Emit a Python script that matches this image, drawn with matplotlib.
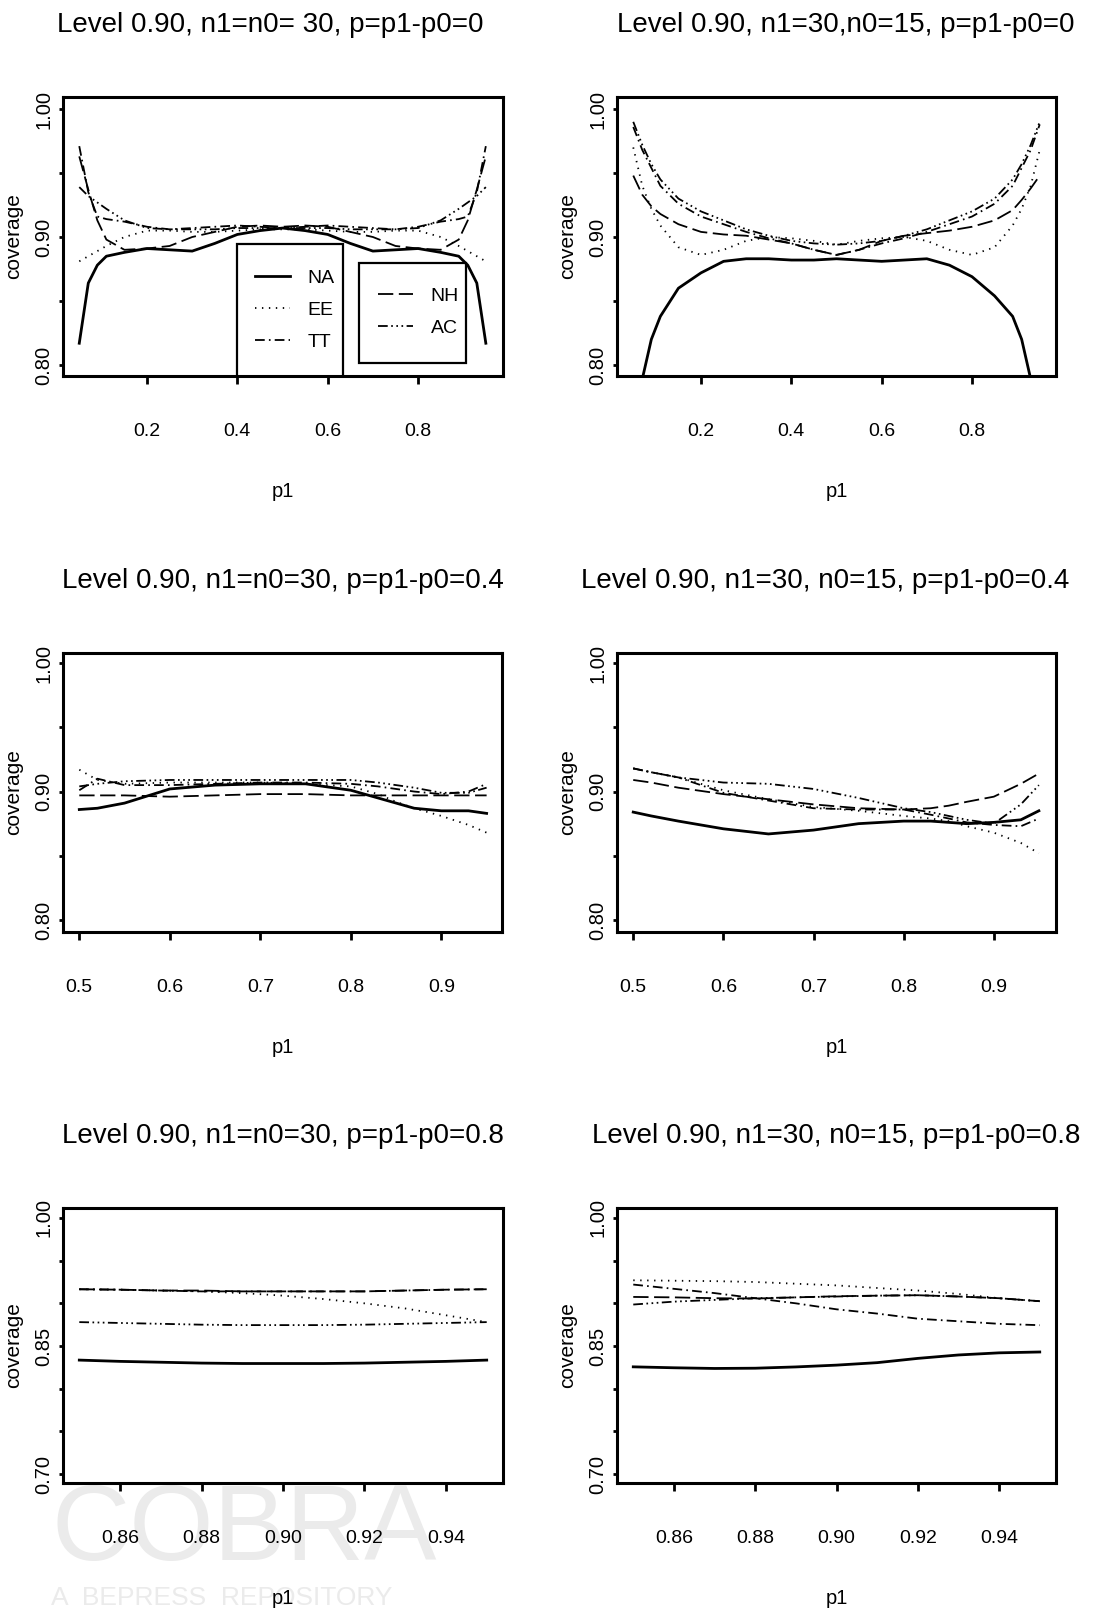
import matplotlib
matplotlib.use('Agg')
import matplotlib.pyplot as plt
from matplotlib.patches import Rectangle
from matplotlib.ticker import FixedLocator, FixedFormatter

plt.rcParams['font.family'] = ['Liberation Sans', 'DejaVu Sans']
plt.rcParams['lines.scale_dashes'] = False

# ---- data ----
# top row: p = p1 - p0 = 0
p1_top = [0.05, 0.07, 0.09, 0.11, 0.15, 0.20, 0.25, 0.30, 0.35, 0.40, 0.45, 0.50,
          0.55, 0.60, 0.65, 0.70, 0.75, 0.80, 0.85, 0.89, 0.91, 0.93, 0.95]
na_a = [0.817, 0.864, 0.878, 0.885, 0.888, 0.891, 0.890, 0.889, 0.895, 0.902, 0.905, 0.907,
        0.905, 0.902, 0.895, 0.889, 0.890, 0.891, 0.888, 0.885, 0.878, 0.864, 0.817]
ee_a = [0.881, 0.885, 0.889, 0.893, 0.900, 0.905, 0.905, 0.904, 0.904, 0.905, 0.906, 0.906,
        0.906, 0.905, 0.904, 0.904, 0.905, 0.905, 0.900, 0.893, 0.889, 0.885, 0.881]
tt_a = [0.971, 0.935, 0.916, 0.914, 0.912, 0.908, 0.906, 0.907, 0.908, 0.909, 0.908, 0.907,
        0.908, 0.909, 0.908, 0.907, 0.906, 0.908, 0.912, 0.914, 0.916, 0.935, 0.971]
nh_a = [0.963, 0.937, 0.913, 0.898, 0.890, 0.891, 0.893, 0.900, 0.904, 0.908, 0.909, 0.908,
        0.909, 0.908, 0.904, 0.900, 0.893, 0.891, 0.890, 0.898, 0.913, 0.937, 0.963]
ac_a = [0.939, 0.932, 0.927, 0.922, 0.913, 0.907, 0.906, 0.906, 0.906, 0.907, 0.907, 0.907,
        0.907, 0.907, 0.906, 0.906, 0.906, 0.907, 0.913, 0.922, 0.927, 0.932, 0.939]

na_b = [0.740, 0.789, 0.820, 0.838, 0.860, 0.872, 0.881, 0.883, 0.883, 0.882, 0.882, 0.883,
        0.882, 0.881, 0.882, 0.883, 0.878, 0.869, 0.854, 0.838, 0.820, 0.789, 0.740]
ee_b = [0.970, 0.940, 0.922, 0.909, 0.892, 0.886, 0.890, 0.897, 0.900, 0.899, 0.897, 0.894,
        0.897, 0.899, 0.900, 0.897, 0.890, 0.886, 0.892, 0.909, 0.922, 0.940, 0.968]
tt_b = [0.986, 0.968, 0.954, 0.940, 0.926, 0.916, 0.910, 0.904, 0.899, 0.895, 0.890, 0.886,
        0.890, 0.895, 0.899, 0.904, 0.910, 0.916, 0.926, 0.940, 0.954, 0.968, 0.988]
nh_b = [0.948, 0.933, 0.924, 0.918, 0.910, 0.904, 0.902, 0.901, 0.898, 0.895, 0.890, 0.886,
        0.890, 0.897, 0.901, 0.903, 0.905, 0.908, 0.913, 0.921, 0.929, 0.938, 0.948]
ac_b = [0.990, 0.972, 0.957, 0.945, 0.930, 0.920, 0.913, 0.906, 0.901, 0.897, 0.895, 0.894,
        0.895, 0.897, 0.901, 0.906, 0.913, 0.920, 0.930, 0.945, 0.957, 0.972, 0.990]

# middle row: p = 0.4
p1_mid = [0.50, 0.52, 0.55, 0.60, 0.65, 0.70, 0.75, 0.80, 0.83, 0.85, 0.87, 0.90, 0.93, 0.95]
na_c = [0.886, 0.887, 0.891, 0.902, 0.905, 0.906, 0.906, 0.901, 0.895, 0.891, 0.887, 0.885, 0.885, 0.883]
ee_c = [0.917, 0.909, 0.906, 0.907, 0.907, 0.907, 0.906, 0.904, 0.898, 0.892, 0.887, 0.881, 0.874, 0.868]
tt_c = [0.901, 0.910, 0.905, 0.905, 0.906, 0.907, 0.907, 0.906, 0.904, 0.902, 0.900, 0.898, 0.900, 0.906]
nh_c = [0.897, 0.897, 0.897, 0.896, 0.897, 0.898, 0.898, 0.897, 0.897, 0.897, 0.897, 0.897, 0.897, 0.897]
ac_c = [0.904, 0.906, 0.908, 0.909, 0.909, 0.909, 0.909, 0.909, 0.907, 0.905, 0.903, 0.899, 0.899, 0.903]

na_d = [0.884, 0.881, 0.877, 0.871, 0.867, 0.870, 0.875, 0.877, 0.877, 0.876, 0.875, 0.876, 0.878, 0.885]
ee_d = [0.918, 0.915, 0.911, 0.901, 0.894, 0.888, 0.885, 0.881, 0.879, 0.877, 0.873, 0.868, 0.860, 0.852]
tt_d = [0.918, 0.915, 0.911, 0.899, 0.893, 0.887, 0.886, 0.886, 0.882, 0.879, 0.876, 0.874, 0.873, 0.879]
nh_d = [0.909, 0.907, 0.903, 0.898, 0.894, 0.890, 0.887, 0.886, 0.887, 0.889, 0.892, 0.896, 0.906, 0.914]
ac_d = [0.918, 0.915, 0.911, 0.907, 0.906, 0.902, 0.895, 0.887, 0.884, 0.881, 0.878, 0.875, 0.890, 0.905]

# bottom row: p = 0.8
p1_bot = [0.85, 0.86, 0.87, 0.88, 0.89, 0.90, 0.91, 0.92, 0.93, 0.94, 0.95]
na_e = [0.8335, 0.832, 0.831, 0.830, 0.8295, 0.8295, 0.8295, 0.830, 0.831, 0.832, 0.8335]
ee_e = [0.9165, 0.916, 0.915, 0.914, 0.912, 0.909, 0.905, 0.900, 0.894, 0.886, 0.878]
tt_e = [0.9165, 0.916, 0.915, 0.914, 0.914, 0.914, 0.914, 0.914, 0.915, 0.916, 0.9165]
nh_e = [0.9165, 0.916, 0.915, 0.915, 0.914, 0.914, 0.914, 0.914, 0.915, 0.916, 0.9165]
ac_e = [0.878, 0.877, 0.876, 0.875, 0.8745, 0.8745, 0.8745, 0.875, 0.876, 0.877, 0.878]

na_f = [0.8256, 0.8245, 0.8237, 0.8240, 0.8255, 0.8276, 0.8305, 0.8355, 0.8395, 0.8420, 0.8430]
ee_f = [0.927, 0.9265, 0.926, 0.925, 0.923, 0.921, 0.918, 0.915, 0.911, 0.906, 0.9025]
tt_f = [0.922, 0.917, 0.912, 0.906, 0.900, 0.893, 0.888, 0.882, 0.879, 0.876, 0.8744]
nh_f = [0.9075, 0.907, 0.906, 0.9056, 0.907, 0.9083, 0.909, 0.9095, 0.908, 0.906, 0.9025]
ac_f = [0.8986, 0.902, 0.904, 0.906, 0.907, 0.908, 0.909, 0.9095, 0.908, 0.906, 0.9025]

titles = ['Level 0.90, n1=n0= 30, p=p1-p0=0',
          'Level 0.90, n1=30,n0=15, p=p1-p0=0',
          'Level 0.90, n1=n0=30, p=p1-p0=0.4',
          'Level 0.90, n1=30, n0=15, p=p1-p0=0.4',
          'Level 0.90, n1=n0=30, p=p1-p0=0.8',
          'Level 0.90, n1=30, n0=15, p=p1-p0=0.8']
method_names = ['NA', 'EE', 'TT', 'NH', 'AC']

# ---- styling ----
styles = {
    'NA': dict(linestyle='-', linewidth=2.0),
    'EE': dict(linestyle=(0, (1.0, 4.0)), linewidth=1.3),
    'TT': dict(linestyle=(0, (7, 3, 1.2, 3)), linewidth=1.3),
    'NH': dict(linestyle=(0, (11, 4)), linewidth=1.3),
    'AC': dict(linestyle=(0, (7, 2.5, 1.2, 2.5, 1.2, 2.5, 1.2, 2.5)), linewidth=1.3),
}

W, H = 1093, 1610
fig = plt.figure(figsize=(W / 100, H / 100), dpi=100)


def box(l, t, r, b):
    return [l / W, 1 - b / H, (r - l) / W, (b - t) / H]


panels = [
    (box(63, 97, 503, 376), p1_top, [na_a, ee_a, tt_a, nh_a, ac_a], (0.014, 0.988), (0.7914, 1.0094),
     [0.2, 0.4, 0.6, 0.8], ['0.2', '0.4', '0.6', '0.8'], 'top', 0.47),
    (box(617, 97, 1056, 376), p1_top, [na_b, ee_b, tt_b, nh_b, ac_b], (0.014, 0.986), (0.7914, 1.0094),
     [0.2, 0.4, 0.6, 0.8], ['0.2', '0.4', '0.6', '0.8'], 'top', 0.52),
    (box(63, 653, 502, 932), p1_mid, [na_c, ee_c, tt_c, nh_c, ac_c], (0.482, 0.967), (0.7907, 1.0078),
     [0.5, 0.6, 0.7, 0.8, 0.9], ['0.5', '0.6', '0.7', '0.8', '0.9'], 'top', 0.50),
    (box(617, 653, 1056, 932), p1_mid, [na_d, ee_d, tt_d, nh_d, ac_d], (0.482, 0.969), (0.7907, 1.0078),
     [0.5, 0.6, 0.7, 0.8, 0.9], ['0.5', '0.6', '0.7', '0.8', '0.9'], 'top', 0.475),
    (box(63, 1208, 503, 1483), p1_bot, [na_e, ee_e, tt_e, nh_e, ac_e], (0.846, 0.954), (0.6895, 1.0117),
     [0.86, 0.88, 0.90, 0.92, 0.94], ['0.86', '0.88', '0.90', '0.92', '0.94'], 'bot', 0.50),
    (box(617, 1208, 1056, 1483), p1_bot, [na_f, ee_f, tt_f, nh_f, ac_f], (0.846, 0.954), (0.6895, 1.0117),
     [0.86, 0.88, 0.90, 0.92, 0.94], ['0.86', '0.88', '0.90', '0.92', '0.94'], 'bot', 0.50),
]

# faint repository watermark, drawn behind everything
fig.text(0.047, 0.031, 'COBRA', fontsize=78, color='#ebebeb', zorder=-5)
fig.text(0.047, 0.003, 'A  BEPRESS  REPOSITORY', fontsize=19, color='#ebebeb', zorder=-5)

axes = []
for i, (rect, x, series, xl, yl, xt, xtl, kind, tx) in enumerate(panels):
    ax = fig.add_axes(rect)
    ax.set_zorder(1)
    ax.patch.set_alpha(0)
    lines = []
    for name, y in zip(method_names, series):
        ln, = ax.plot(x, y, color='black', label=name, **styles[name])
        lines.append(ln)
    ax.set_xlim(*xl)
    ax.set_ylim(*yl)
    ax.set_xticks(xt)
    ax.set_xticklabels(xtl)
    if kind == 'top':
        yt = [0.80, 0.85, 0.90, 0.95, 1.00]
        ytl = ['0.80', '', '0.90', '', '1.00']
    else:
        yt = [0.70, 0.75, 0.80, 0.85, 0.90, 0.95, 1.00]
        ytl = ['0.70', '', '', '0.85', '', '', '1.00']
    ax.yaxis.set_major_locator(FixedLocator(yt))
    ax.yaxis.set_major_formatter(FixedFormatter(ytl))
    for lab in ax.get_yticklabels():
        lab.set_rotation(90)
        lab.set_va('center')
    ax.tick_params(axis='x', length=6, width=2, pad=28, labelsize=14)
    ax.tick_params(axis='y', length=3, width=2, pad=4, labelsize=14.5)
    for s in ax.spines.values():
        s.set_linewidth(2.2)
    ax.set_ylabel('coverage', fontsize=15, labelpad=8)
    ax.set_xlabel('p1', fontsize=14.5, labelpad=30)
    ax.set_title(titles[i], fontsize=20, pad=47, x=tx)
    axes.append((ax, lines))

# two legend boxes in the first panel (frames drawn as plain rectangles, clipped by the axes)
ax0, l0 = axes[0]
ax0.add_patch(Rectangle((0.3955, -0.1), 0.2409, 0.573, transform=ax0.transAxes,
                        fill=False, edgecolor='black', linewidth=1.6))
ax0.add_patch(Rectangle((0.673, 0.047), 0.243, 0.358, transform=ax0.transAxes,
                        fill=False, edgecolor='black', linewidth=1.6))
leg_kw = dict(frameon=False, fontsize=14, borderpad=0, handlelength=1.8,
              handletextpad=0.9, labelspacing=0.75, borderaxespad=0)
leg1 = ax0.legend(l0[:3], method_names[:3], loc='upper left',
                  bbox_to_anchor=(0.4364, 0.3835), **leg_kw)
ax0.add_artist(leg1)
leg2 = ax0.legend(l0[3:], method_names[3:], loc='upper left',
                  bbox_to_anchor=(0.716, 0.319), **leg_kw)

fig.savefig('out.png', dpi=100)
